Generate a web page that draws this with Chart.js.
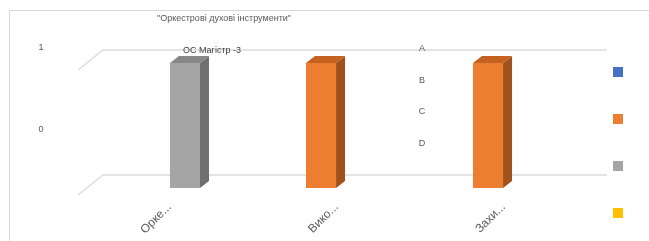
<!DOCTYPE html>
<html>
<head>
<meta charset="utf-8">
<script src="https://cdn.jsdelivr.net/npm/chart.js@4.4.1/dist/chart.umd.min.js"></script>
<style>
  html, body { margin: 0; padding: 0; background: #fff; }
  #wrap { width: 649px; height: 241px; }
</style>
</head>
<body>
<div id="wrap"><canvas id="chart" width="649" height="241"></canvas></div>
<script>
// Data
const categories = ['Орке...', 'Вико...', 'Захи...'];
const seriesNames = ['A', 'B', 'C', 'D'];
const seriesA = [null, null, null];
const seriesB = [null, 1, 1];
const seriesC = [1, null, null];
const seriesD = [null, null, null];
const yTickLabels = ['1', '0'];
const titleText = '"Оркестрові духові інструменти"';
const subTitleText = 'ОС Магістр -3';

const frontColors = ['#4472c4', '#ed7d31', '#a5a5a5', '#ffc000'];
const sideColors = ['#2f528f', '#a0521c', '#6f6f6f', '#b38600'];
const topColors = ['#3a63ab', '#c5621f', '#878787', '#d9a300'];

const FONT = '"Liberation Sans", Arial, sans-serif';
const NARROW = '"Liberation Sans Narrow", "Liberation Sans", Arial, sans-serif';
const DX = 9, DY = -7;   // 3D depth offset

// Draws the frame, back grid, texts and the 3D faces of bars
const excel3d = {
    id: 'excel3d',
    beforeDatasetsDraw(chart) {
        const { ctx, chartArea } = chart;
        ctx.save();
        // frame
        ctx.strokeStyle = '#d9d9d9';
        ctx.lineWidth = 1;
        ctx.strokeRect(9.5, 10.5, 660, 240);
        // back wall gridlines with floor diagonals
        ctx.strokeStyle = '#dcdcdc';
        ctx.lineWidth = 1.5;
        [chartArea.top, chartArea.bottom].forEach(y => {
            ctx.beginPath();
            ctx.moveTo(78, y + 7);
            ctx.lineTo(103, y - 13);
            ctx.lineTo(607, y - 13);
            ctx.stroke();
        });
        ctx.restore();
    },
    afterDatasetsDraw(chart) {
        const { ctx } = chart;
        ctx.save();
        chart.data.datasets.forEach((ds, i) => {
            const meta = chart.getDatasetMeta(i);
            meta.data.forEach((bar, j) => {
                if (ds.data[j] == null) return;
                const l = bar.x - bar.width / 2, r = bar.x + bar.width / 2;
                const t = bar.y, b = bar.base;
                // side face
                ctx.fillStyle = sideColors[i];
                ctx.beginPath();
                ctx.moveTo(r, t);
                ctx.lineTo(r + DX, t + DY);
                ctx.lineTo(r + DX, b + DY);
                ctx.lineTo(r, b);
                ctx.closePath();
                ctx.fill();
                // top face
                ctx.fillStyle = topColors[i];
                ctx.beginPath();
                ctx.moveTo(l, t);
                ctx.lineTo(l + DX, t + DY);
                ctx.lineTo(r + DX, t + DY);
                ctx.lineTo(r, t);
                ctx.closePath();
                ctx.fill();
            });
        });
        ctx.restore();
    },
    afterDraw(chart) {
        const { ctx } = chart;
        ctx.save();
        ctx.fillStyle = '#595959';
        ctx.textAlign = 'center';
        ctx.textBaseline = 'middle';
        ctx.font = '9px ' + NARROW;
        ctx.fillText(titleText, 224, 19);
        ctx.fillStyle = '#404040';
        ctx.font = '9px ' + NARROW;
        ctx.fillText(subTitleText, 212, 51);
        ctx.fillStyle = '#595959';
        // left labels
        ctx.font = '9px ' + FONT;
        ctx.fillText(yTickLabels[0], 41, 48);
        ctx.fillText(yTickLabels[1], 41, 130);
        // series names
        ctx.font = '9px ' + NARROW;
        chart.data.datasets.forEach((ds, i) => {
            ctx.fillText(ds.label, 422, 49 + i * 31.5);
        });
        // legend markers
        chart.data.datasets.forEach((ds, i) => {
            ctx.fillStyle = ds.backgroundColor;
            ctx.fillRect(613, 67 + i * 47, 10, 10);
        });
        ctx.restore();
    }
};

const allSeries = [seriesA, seriesB, seriesC, seriesD];

new Chart(document.getElementById('chart'), {
    type: 'bar',
    data: {
        labels: categories,
        datasets: allSeries.map((vals, i) => ({
            label: seriesNames[i],
            data: vals,
            backgroundColor: frontColors[i],
            borderWidth: 0,
            categoryPercentage: 0.742,
            barPercentage: 0.97
        }))
    },
    options: {
        responsive: false,
        animation: false,
        layout: { padding: { left: 86, right: 62, top: 63, bottom: 0 } },
        scales: {
            x: {
                grid: { display: false, drawTicks: false },
                border: { display: false },
                ticks: {
                    color: '#595959',
                    font: { family: FONT, size: 12 },
                    minRotation: 45,
                    maxRotation: 45,
                    padding: 12
                },
                afterFit(scale) { scale.height = 53; }
            },
            y: {
                display: false,
                min: 0,
                max: 1
            }
        },
        plugins: {
            legend: { display: false },
            title: { display: false },
            tooltip: { enabled: false }
        }
    },
    plugins: [excel3d]
});
</script>
</body>
</html>
